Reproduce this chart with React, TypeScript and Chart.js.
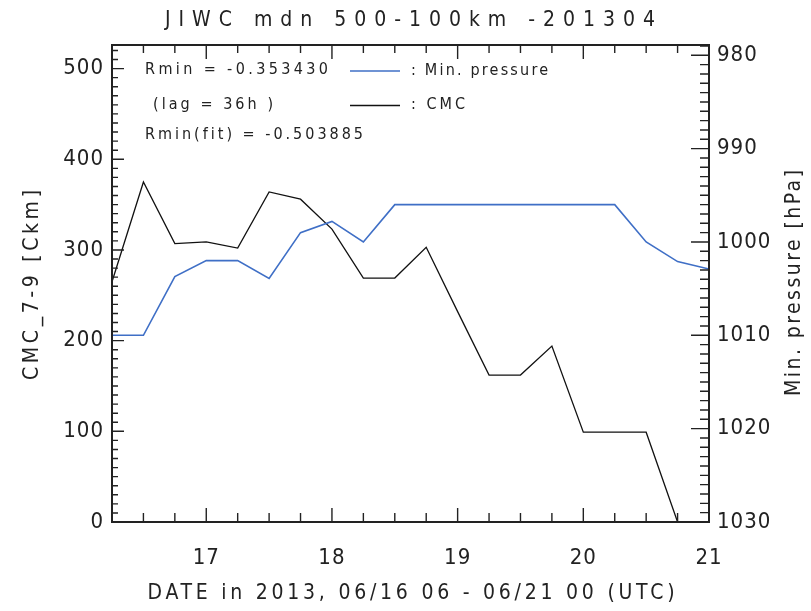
import React, { useEffect, useRef } from "react";
import { Chart, registerables } from "chart.js";

Chart.register(...registerables);

// ---- data ----
const times = [16.25, 16.5, 16.75, 17.0, 17.25, 17.5, 17.75, 18.0, 18.25, 18.5, 18.75, 19.0, 19.25, 19.5, 19.75, 20.0, 20.25, 20.5, 20.75, 21.0];
const cmcValues = [265, 375, 307, 309, 302, 364, 356, 323, 269, 269, 303, 232, 162, 162, 194, 99, 99, 99, 0, null];
const pressureValues = [1010, 1010, 1003.7, 1002, 1002, 1003.9, 999, 997.8, 1000, 996, 996, 996, 996, 996, 996, 996, 996, 1000, 1002.1, 1002.9];

const xTickValues = [17, 18, 19, 20, 21];
const leftTickValues = [0, 100, 200, 300, 400, 500];
const rightTickValues = [980, 990, 1000, 1010, 1020, 1030];

const titleText = "JIWC mdn 500-100km -201304";
const xTitle = "DATE in 2013, 06/16 06 - 06/21 00 (UTC)";
const leftTitle = "CMC_7-9 [Ckm]";
const rightTitle = "Min. pressure [hPa]";
const statLines = ["Rmin = -0.353430", "(lag = 36h )", "Rmin(fit) = -0.503885"];
const legendLabels = [": Min. pressure", ": CMC"];

const FONT = "'DejaVu Sans Condensed', 'DejaVu Sans', sans-serif";
const BLUE = "#3f6fc6";
const BLACK = "#111111";
const INK = "#222222";

function drawSpaced(
  ctx: CanvasRenderingContext2D,
  text: string,
  x: number,
  y: number,
  size: number,
  width: number,
  align: "left" | "center",
  rotate = 0
) {
  ctx.save();
  ctx.font = `${size}px ${FONT}`;
  (ctx as any).letterSpacing = "0px";
  const w0 = ctx.measureText(text).width;
  const n = text.length;
  const s = n > 1 ? (width - w0) / (n - 1) : 0;
  (ctx as any).letterSpacing = `${s}px`;
  ctx.fillStyle = INK;
  ctx.textBaseline = "middle";
  ctx.textAlign = "left";
  ctx.translate(x, y);
  if (rotate) ctx.rotate(rotate);
  const startX = align === "center" ? -width / 2 : 0;
  ctx.fillText(text, startX, 0);
  ctx.restore();
}

const idlPlugin = {
  id: "idlFrame",
  beforeDraw(chart: any) {
    (chart.ctx as any).letterSpacing = "1px";
  },
  afterDraw(chart: any) {
    const { ctx, chartArea: a, scales } = chart;
    const sx = scales.x;
    const syl = scales.y;
    const syr = scales.yP;
    ctx.save();
    (ctx as any).letterSpacing = "0px";
    ctx.strokeStyle = INK;
    ctx.lineWidth = 1.4;
    ctx.beginPath();
    // x ticks (bottom and top), every 6 h
    for (let i = 0; ; i++) {
      const v = 16.25 + i * 0.25;
      if (v > 21.0001) break;
      const major = Math.abs(v - Math.round(v)) < 1e-6;
      const px = sx.getPixelForValue(v);
      const lb = major ? 14 : 9;
      const lt = major ? 14 : 8;
      ctx.moveTo(px, a.bottom);
      ctx.lineTo(px, a.bottom - lb);
      ctx.moveTo(px, a.top);
      ctx.lineTo(px, a.top + lt);
    }
    // left ticks
    for (let v = 0; v <= 526; v += 10) {
      const py = syl.getPixelForValue(v);
      const l = v % 100 === 0 ? 12 : 6;
      ctx.moveTo(a.left, py);
      ctx.lineTo(a.left + l, py);
    }
    // right ticks
    for (let v = 979; v <= 1030; v += 1) {
      const py = syr.getPixelForValue(v);
      const l = v % 10 === 0 ? 18 : 9;
      ctx.moveTo(a.right, py);
      ctx.lineTo(a.right - l, py);
    }
    ctx.stroke();
    // frame
    ctx.lineWidth = 2;
    ctx.strokeRect(a.left, a.top, a.right - a.left, a.bottom - a.top);

    // legend lines
    ctx.lineWidth = 1.6;
    ctx.strokeStyle = BLUE;
    ctx.beginPath();
    ctx.moveTo(350, 71);
    ctx.lineTo(400, 71);
    ctx.stroke();
    ctx.strokeStyle = BLACK;
    ctx.lineWidth = 1.3;
    ctx.beginPath();
    ctx.moveTo(350, 105.5);
    ctx.lineTo(400, 105.5);
    ctx.stroke();
    ctx.restore();

    // texts
    drawSpaced(ctx, titleText, 410, 21, 21, 490, "center");
    drawSpaced(ctx, xTitle, 411, 594, 21, 527, "center");
    drawSpaced(ctx, leftTitle, 33, 285, 21, 190, "center", -Math.PI / 2);
    drawSpaced(ctx, rightTitle, 795, 283, 21, 226, "center", -Math.PI / 2);
    drawSpaced(ctx, statLines[0], 145, 70, 16, 183, "left");
    drawSpaced(ctx, statLines[1], 153, 105, 16, 120, "left");
    drawSpaced(ctx, statLines[2], 145, 135, 16, 218, "left");
    drawSpaced(ctx, legendLabels[0], 411, 71, 16, 137, "left");
    drawSpaced(ctx, legendLabels[1], 411, 105, 16, 54, "left");
  },
};

export default function App() {
  const ref = useRef<HTMLCanvasElement | null>(null);
  useEffect(() => {
    if (!ref.current) return;
    const tickFont = { family: FONT, size: 22 };
    const chart = new Chart(ref.current, {
      type: "line",
      data: {
        datasets: [
          {
            label: "Min. pressure",
            data: times.map((t, i) => ({ x: t, y: pressureValues[i] })),
            yAxisID: "yP",
            borderColor: BLUE,
            borderWidth: 1.6,
            pointRadius: 0,
            tension: 0,
            fill: false,
          },
          {
            label: "CMC",
            data: times.map((t, i) => ({ x: t, y: cmcValues[i] as any })),
            yAxisID: "y",
            borderColor: BLACK,
            borderWidth: 1.3,
            pointRadius: 0,
            tension: 0,
            fill: false,
            spanGaps: false,
          },
        ],
      },
      options: {
        responsive: false,
        animation: false,
        events: [],
        layout: { padding: { top: 45, left: 0, right: 0, bottom: 0 } },
        plugins: {
          legend: { display: false },
          title: { display: false },
          tooltip: { enabled: false },
        },
        scales: {
          x: {
            type: "linear",
            position: "bottom",
            min: 16.25,
            max: 21,
            grid: { display: false, drawTicks: false },
            border: { display: false },
            ticks: {
              font: tickFont,
              color: INK,
              padding: 23,
              maxRotation: 0,
              autoSkip: false,
              callback: (v: any) => String(v),
            },
            afterBuildTicks: (s: any) => {
              s.ticks = xTickValues.map((v) => ({ value: v }));
            },
            afterFit: (s: any) => {
              s.height = 89;
            },
          },
          y: {
            type: "linear",
            position: "left",
            min: 0,
            max: 526,
            grid: { display: false, drawTicks: false },
            border: { display: false },
            ticks: {
              font: tickFont,
              color: INK,
              padding: 8,
              autoSkip: false,
              callback: (v: any) => String(v),
            },
            afterBuildTicks: (s: any) => {
              s.ticks = leftTickValues.map((v) => ({ value: v }));
            },
            afterFit: (s: any) => {
              s.width = 112;
            },
          },
          yP: {
            type: "linear",
            position: "right",
            min: 978.9,
            max: 1030,
            reverse: true,
            grid: { display: false, drawTicks: false },
            border: { display: false },
            ticks: {
              font: tickFont,
              color: INK,
              padding: 8,
              autoSkip: false,
              callback: (v: any) => String(v),
            },
            afterBuildTicks: (s: any) => {
              s.ticks = rightTickValues.map((v) => ({ value: v }));
            },
            afterFit: (s: any) => {
              s.width = 102;
            },
          },
        },
      } as any,
      plugins: [idlPlugin],
    });
    return () => chart.destroy();
  }, []);

  return (
    <div style={{ position: "fixed", left: 0, top: 0, width: 811, height: 611, background: "#fff" }}>
      <canvas ref={ref} width={811} height={611} style={{ display: "block", width: 811, height: 611 }} />
    </div>
  );
}
